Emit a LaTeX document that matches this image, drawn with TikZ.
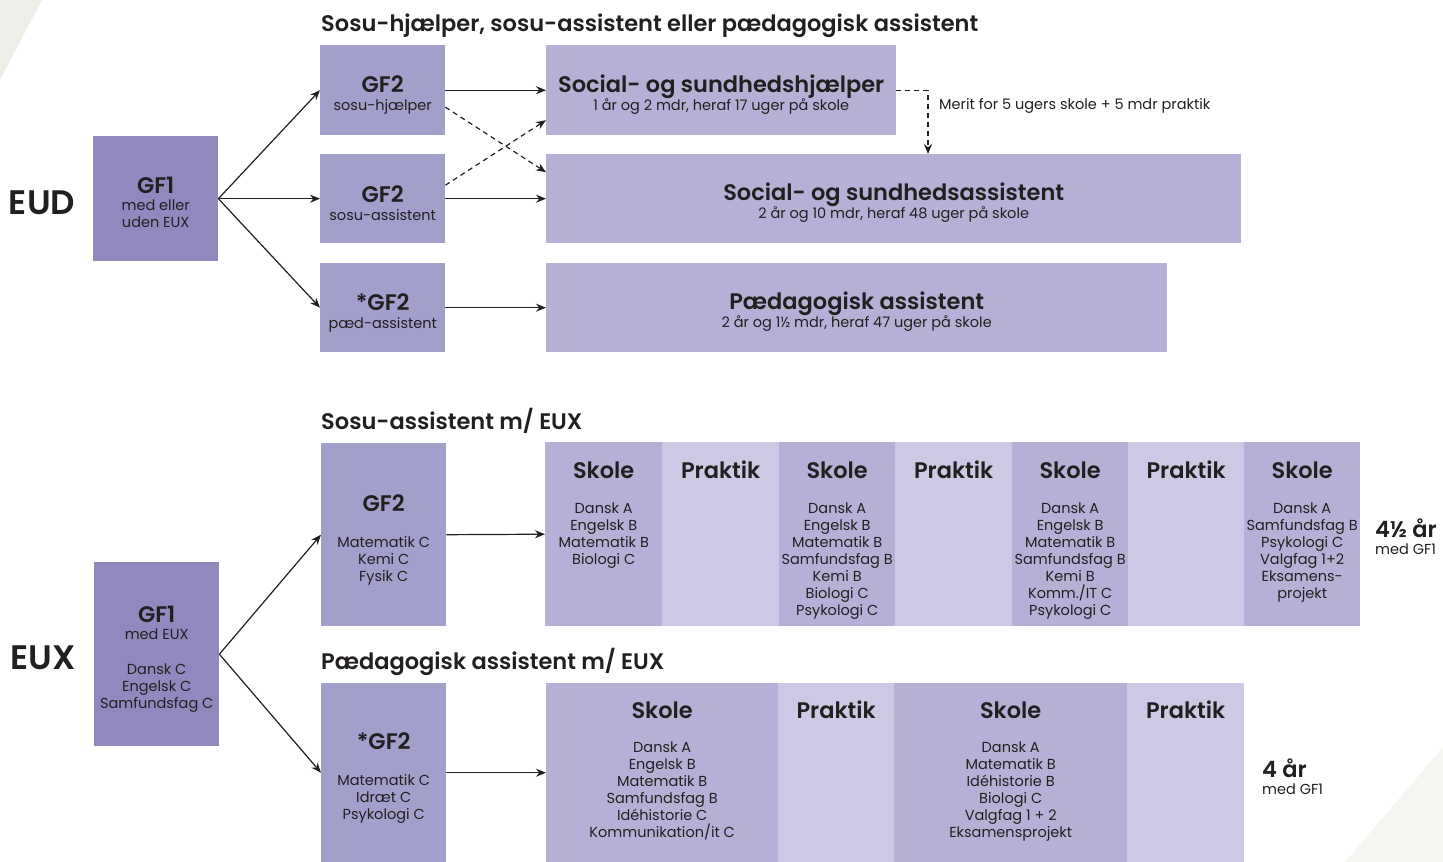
\documentclass[tikz,border=0pt]{standalone}
\usepackage{fontspec}
\setmainfont{Poppins}[BoldFont={Poppins SemiBold}]
\usetikzlibrary{arrows.meta,calc}
\definecolor{gfone}{HTML}{9089BD}
\definecolor{gftwo}{HTML}{A39FCB}
\definecolor{course}{HTML}{B5B1D6}
\definecolor{prak}{HTML}{CBC9E3}
\definecolor{txt}{HTML}{231F20}
\definecolor{tri}{HTML}{EEEEE8}
\newcommand{\hd}{\fontsize{22.5}{24}\selectfont\bfseries}
\newcommand{\sm}{\fontsize{14.5}{17}\selectfont}
\newcommand{\ttl}{\fontsize{22.5}{24}\selectfont\bfseries}
\newcommand{\hg}{\fontsize{34}{36}\selectfont\bfseries}
\begin{document}
\begin{tikzpicture}[x=1pt,y=-1pt,
  boxx/.style={draw=none,inner sep=0pt,anchor=north west},
  lbl/.style={inner sep=0pt,text=txt,align=center,font=\sm},
  arr/.style={line width=1.2pt,draw=txt,-{Stealth[length=10pt,width=8pt]}},
  darr/.style={arr,dash pattern=on 5pt off 4pt}]
\useasboundingbox (0,0) rectangle (1443,862);
\fill[tri] (0,0) -- (42,0) -- (0,80) -- cycle;
\fill[tri!60] (1443,747) -- (1443,862) -- (1345,862) -- cycle;

% ---------- EUD ----------
\node[lbl,anchor=west,font=\ttl] (t1) at (321,26) {Sosu-hjælper, sosu-assistent eller pædagogisk assistent};
\node[lbl,font=\hg] (eud) at (42,203) {EUD};
\node[boxx,fill=gfone,minimum width=125pt,minimum height=125pt] (gf1a) at (93,136) {};
\node[lbl] (gf1at) at ($(gf1a.center)+(0,4)$) {{\hd GF1}\\med eller\\uden EUX};
\node[boxx,fill=gftwo,minimum width=125pt,minimum height=90pt] (gf2a) at (320,45) {};
\node[lbl] (gf2at) at ($(gf2a.center)+(0,4.5)$) {{\hd GF2}\\[1pt]sosu-hjælper};
\node[boxx,fill=gftwo,minimum width=125pt,minimum height=89pt] (gf2b) at (320,154) {};
\node[lbl] (gf2bt) at ($(gf2b.center)+(0,4.5)$) {{\hd GF2}\\[1pt]sosu-assistent};
\node[boxx,fill=gftwo,minimum width=125pt,minimum height=89pt] (gf2c) at (320,263) {};
\node[lbl] (gf2ct) at ($(gf2c.center)+(0,5)$) {{\hd *GF2}\\[1pt]pæd-assistent};
\node[boxx,fill=course,minimum width=350pt,minimum height=90pt] (c1) at (546,45) {};
\node[lbl] (c1t) at ($(c1.center)+(0,4)$) {{\hd Social- og sundhedshjælper}\\[-1pt]1 år og 2 mdr, heraf 17 uger på skole};
\node[boxx,fill=course,minimum width=695pt,minimum height=89pt] (c2) at (546,154) {};
\node[lbl] (c2t) at ($(c2.center)+(0,4)$) {{\hd Social- og sundhedsassistent}\\[-1pt]2 år og 10 mdr, heraf 48 uger på skole};
\node[boxx,fill=course,minimum width=621pt,minimum height=89pt] (c3) at (546,263) {};
\node[lbl] (c3t) at ($(c3.center)+(0,4)$) {{\hd Pædagogisk assistent}\\[-1pt]2 år og 1½ mdr, heraf 47 uger på skole};

\draw[arr] (gf1a.east) -- (gf2a.west);
\draw[arr] (gf1a.east) -- (gf2b.west);
\draw[arr] (gf1a.east) -- (gf2c.west);
\draw[arr] (gf2a.east) -- (c1.west);
\draw[arr] (gf2b.east) -- (c2.west);
\draw[arr] (gf2c.east) -- (c3.west);
\draw[darr] ($(gf2a.east)+(0,17)$) -- ($(c2.west)+(0,-26.5)$);
\draw[darr] ($(gf2b.east)+(0,-13.5)$) -- ($(c1.west)+(0,30)$);
\coordinate (meritend) at (928,154);
\draw[darr] (c1.east) -| (meritend);
\node[lbl,anchor=west] (merit) at (939,106) {Merit for 5 ugers skole + 5 mdr praktik};

% ---------- EUX ----------
\node[lbl,font=\hg] (eux) at (43,658) {EUX};
\node[lbl,anchor=west,font=\ttl] (t2) at (321,421) {Sosu-assistent m/ EUX};
\node[lbl,anchor=west,font=\ttl] (t3) at (321,662) {Pædagogisk assistent m/ EUX};
\node[boxx,fill=gfone,minimum width=125pt,minimum height=184pt] (gf1x) at (94,562) {};
\node[lbl] (gf1xt) at ($(gf1x.center)+(0,5)$) {{\hd GF1}\\med EUX\\[18pt]Dansk C\\Engelsk C\\Samfundsfag C};
\node[boxx,fill=gftwo,minimum width=125pt,minimum height=183pt] (gf2x) at (321,443) {};
\node[lbl] (gf2xt) at ($(gf2x.center)+(0,5)$) {{\hd GF2}\\[19pt]Matematik C\\Kemi C\\Fysik C};
\node[boxx,fill=gftwo,minimum width=125pt,minimum height=179pt] (pgf2x) at (321,683) {};
\node[lbl] (pgf2xt) at ($(pgf2x.center)+(0,5)$) {{\hd *GF2}\\[19pt]Matematik C\\Idræt C\\Psykologi C};

% row 1
\node[boxx,fill=course,minimum width=117pt,minimum height=184pt] (r1a) at (545,442) {};
\node[boxx,fill=prak,minimum width=117pt,minimum height=184pt] (r1b) at (662,442) {};
\node[boxx,fill=course,minimum width=116pt,minimum height=184pt] (r1c) at (779,442) {};
\node[boxx,fill=prak,minimum width=117pt,minimum height=184pt] (r1d) at (895,442) {};
\node[boxx,fill=course,minimum width=116pt,minimum height=184pt] (r1e) at (1012,442) {};
\node[boxx,fill=prak,minimum width=116pt,minimum height=184pt] (r1f) at (1128,442) {};
\node[boxx,fill=course,minimum width=116pt,minimum height=184pt] (r1g) at (1244,442) {};
\foreach \n/\t in {r1a/Skole,r1b/Praktik,r1c/Skole,r1d/Praktik,r1e/Skole,r1f/Praktik,r1g/Skole}
  \node[lbl,font=\hd] (\n h) at ($(\n.north)+(0,28)$) {\t};
\node[lbl,anchor=north] (r1al) at ($(r1a.north)+(0,61)$) {Dansk A\\Engelsk B\\Matematik B\\Biologi C};
\node[lbl,anchor=north] (r1cl) at ($(r1c.north)+(0,61)$) {Dansk A\\Engelsk B\\Matematik B\\Samfundsfag B\\Kemi B\\Biologi C\\Psykologi C};
\node[lbl,anchor=north] (r1el) at ($(r1e.north)+(0,61)$) {Dansk A\\Engelsk B\\Matematik B\\Samfundsfag B\\Kemi B\\Komm./IT C\\Psykologi C};
\node[lbl,anchor=north] (r1gl) at ($(r1g.north)+(0,61)$) {Dansk A\\Samfundsfag B\\Psykologi C\\Valgfag 1+2\\Eksamens-\\projekt};
\node[lbl,anchor=west,font=\hd] (dur1) at (1375,528) {4½ år};
\node[lbl,anchor=west] (dur1s) at (1375,549) {med GF1};

% row 2
\node[boxx,fill=course,minimum width=232pt,minimum height=179pt] (r2a) at (546,683) {};
\node[boxx,fill=prak,minimum width=116pt,minimum height=179pt] (r2b) at (778,683) {};
\node[boxx,fill=course,minimum width=233pt,minimum height=179pt] (r2c) at (894,683) {};
\node[boxx,fill=prak,minimum width=117pt,minimum height=179pt] (r2d) at (1127,683) {};
\foreach \n/\t in {r2a/Skole,r2b/Praktik,r2c/Skole,r2d/Praktik}
  \node[lbl,font=\hd] (\n h) at ($(\n.north)+(0,27)$) {\t};
\node[lbl,anchor=north] (r2al) at ($(r2a.north)+(0,59)$) {Dansk A\\Engelsk B\\Matematik B\\Samfundsfag B\\Idéhistorie C\\Kommunikation/it C};
\node[lbl,anchor=north] (r2cl) at ($(r2c.north)+(0,59)$) {Dansk A\\Matematik B\\Idéhistorie B\\Biologi C\\Valgfag 1 + 2\\Eksamensprojekt};
\node[lbl,anchor=west,font=\hd] (dur2) at (1262,768) {4 år};
\node[lbl,anchor=west] (dur2s) at (1262,789) {med GF1};

\draw[arr] (gf1x.east) -- (gf2x.west);
\draw[arr] (gf1x.east) -- (pgf2x.west);
\draw[arr] (gf2x.east) -- (r1a.west);
\draw[arr] (pgf2x.east) -- (r2a.west);
\end{tikzpicture}
\end{document}
